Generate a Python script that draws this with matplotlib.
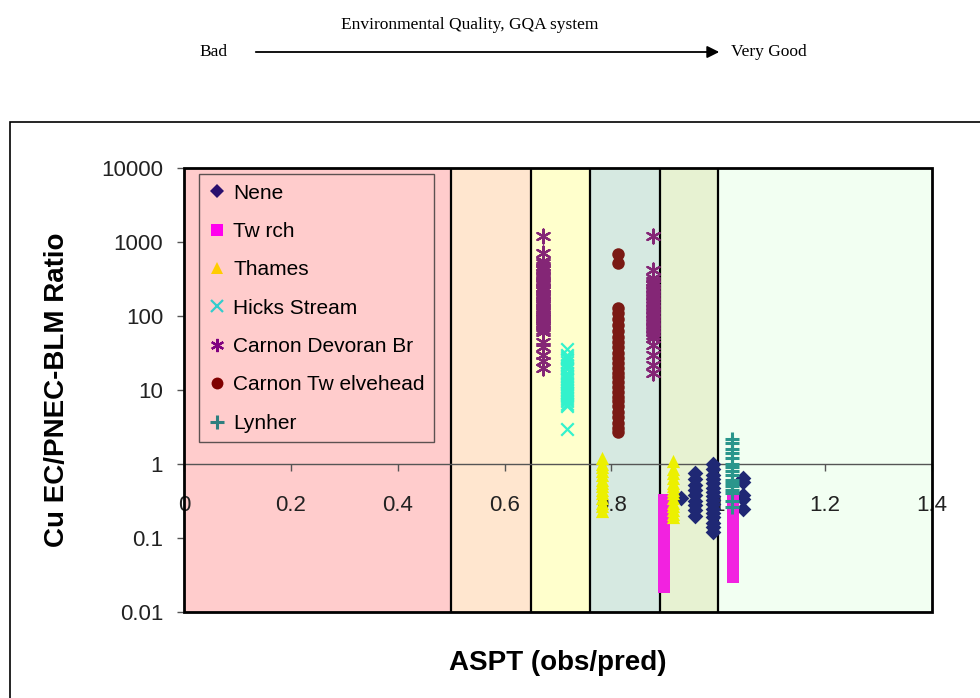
import matplotlib.pyplot as plt
import numpy as np
from matplotlib.patches import Rectangle, FancyArrowPatch
from matplotlib.lines import Line2D

plt.rcParams['font.family'] = ['Liberation Sans', 'DejaVu Sans']

# GQA classes on ASPT (obs/pred) and their band colours
band_edges = [0, 0.5, 0.65, 0.76, 0.89, 1.0, 1.4]
band_colors = ['#ffcccc', '#ffe6cf', '#ffffcc', '#d6e9e1', '#e7f2d2', '#f2fff2']

# each site column: ASPT (obs/pred) and the Cu EC/PNEC-BLM ratios measured there
nene_aspt = [0.93, 0.956, 0.99, 1.046]
nene_ratio = [[0.35],
              [0.75, 0.62, 0.52, 0.45, 0.38, 0.32, 0.28, 0.24, 0.2],
              [1.0, 0.85, 0.72, 0.62, 0.55, 0.48, 0.42, 0.37, 0.33, 0.29,
               0.25, 0.22, 0.19, 0.16, 0.14, 0.12],
              [0.65, 0.58, 0.38, 0.34, 0.25]]

twrch_aspt = [0.898, 1.027]
twrch_ratio = [[0.33, 0.25, 0.2, 0.16, 0.13, 0.1, 0.08, 0.065, 0.05, 0.04,
                0.032, 0.026, 0.022],
               [0.35, 0.28, 0.22, 0.18, 0.15, 0.12, 0.1, 0.085, 0.07, 0.06,
                0.05, 0.042, 0.036, 0.03]]

thames_aspt = [0.782, 0.915]
thames_ratio = [[1.2, 1.0, 0.9, 0.8, 0.7, 0.6, 0.55, 0.5, 0.45, 0.4, 0.35,
                 0.3, 0.27, 0.23],
                [1.1, 0.85, 0.75, 0.65, 0.55, 0.5, 0.45, 0.4, 0.35, 0.3,
                 0.27, 0.24, 0.21, 0.19]]

hicks_aspt = [0.717]
hicks_ratio = [[36, 30, 28, 26, 24, 22, 20, 19, 17, 16, 15, 14, 13, 12, 11,
                10, 9.5, 9, 8.5, 8, 7.5, 7, 6.5, 6, 3]]

devoran_aspt = [0.672, 0.878]
devoran_ratio = [[1200, 700, 560, 520, 480, 450, 420, 380, 350, 330, 300, 290,
                  270, 250, 230, 220, 200, 190, 180, 170, 160, 150, 140, 130,
                  120, 115, 105, 100, 95, 90, 85, 80, 75, 70, 65, 60, 45, 38,
                  30, 25, 20],
                 [1200, 420, 330, 300, 280, 260, 240, 220, 200, 185, 170, 155,
                  140, 130, 120, 110, 100, 92, 85, 78, 72, 66, 60, 55, 50, 40,
                  30, 22, 17]]

twelvehead_aspt = [0.812]
twelvehead_ratio = [[680, 520, 130, 110, 90, 75, 62, 52, 45, 38, 32, 27, 23,
                     20, 17, 15, 13, 11, 9.5, 8, 7, 6, 5, 4.3, 3.6, 3.1, 2.7]]

lynher_aspt = [1.026]
lynher_ratio = [[2.2, 1.9, 1.6, 1.4, 1.2, 1.0, 0.9, 0.8, 0.7, 0.6, 0.55, 0.5,
                 0.45, 0.4, 0.32, 0.26]]

x_ticks = [0, 0.2, 0.4, 0.6, 0.8, 1, 1.2, 1.4]
x_tick_labels = ['0', '0.2', '0.4', '0.6', '0.8', '1', '1.2', '1.4']
y_ticks = [0.01, 0.1, 1, 10, 100, 1000, 10000]
y_tick_labels = ['0.01', '0.1', '1', '10', '100', '1000', '10000']

# name, aspt, ratios, marker, plot colour, legend colour, size, edge width
series = [
    ('Nene', nene_aspt, nene_ratio, 'D', '#1f2874', '#2a0f6e', 8, 0),
    ('Tw rch', twrch_aspt, twrch_ratio, 's', '#f222e0', '#ff00ee', 8.5, 0),
    ('Thames', thames_aspt, thames_ratio, '^', '#ecf000', '#ffcc00', 9.5, 0),
    ('Hicks Stream', hicks_aspt, hicks_ratio, 'x', '#33f2cc', '#33cccc', 9, 1.6),
    ('Carnon Devoran Br', devoran_aspt, devoran_ratio, (6, 2, 0), '#842676', '#800080', 10, 1.6),
    ('Carnon Tw elvehead', twelvehead_aspt, twelvehead_ratio, 'o', '#7a1a14', '#800000', 9, 0),
    ('Lynher', lynher_aspt, lynher_ratio, '+', '#2a968c', '#2e7f7f', 10, 2.2),
]


def columns(aspt, ratios):
    x = np.concatenate([np.full(len(r), a) for a, r in zip(aspt, ratios)])
    y = np.concatenate([np.array(r, dtype=float) for r in ratios])
    return x, y


fig = plt.figure(figsize=(9.8, 6.98), dpi=100)

# header: quality scale arrow
fig.text(470 / 980, 1 - 25 / 698, 'Environmental Quality, GQA system',
         family='Liberation Serif', fontsize=12.5, ha='center', va='center')
fig.text(214 / 980, 1 - 52 / 698, 'Bad', family='Liberation Serif',
         fontsize=12.5, ha='center', va='center')
fig.text(731 / 980, 1 - 52 / 698, 'Very Good', family='Liberation Serif',
         fontsize=12.5, ha='left', va='center')
fig.add_artist(FancyArrowPatch((253 / 980, 1 - 52 / 698), (722 / 980, 1 - 52 / 698),
                               transform=fig.transFigure, arrowstyle='-|>',
                               mutation_scale=18, lw=1.3, color='black'))

# chart area border
fig.add_artist(Rectangle((10 / 980, -0.1), 1.0, 1.1 - 122 / 698,
                         transform=fig.transFigure, fill=False,
                         edgecolor='black', lw=1.2))

ax = fig.add_axes([184 / 980, 86 / 698, 748 / 980, 444 / 698])
ax.set_yscale('log')
ax.set_xlim(0, 1.4)
ax.set_ylim(0.01, 10000)

for i in range(len(band_colors)):
    ax.axvspan(band_edges[i], band_edges[i + 1], color=band_colors[i], lw=0, zorder=0)
for e in band_edges[1:-1]:
    ax.axvline(e, color='black', lw=1.6, zorder=1)

for name, aspt, ratios, mk, col, lcol, ms, lw in series:
    x, y = columns(aspt, ratios)
    ax.scatter(x, y, marker=mk, s=ms ** 2, color=col, linewidths=lw, zorder=3)

# x axis crosses at ratio = 1
for side in ['top', 'right', 'left']:
    ax.spines[side].set_visible(False)
ax.spines['bottom'].set_position(('data', 1))
ax.spines['bottom'].set_color('#555555')
ax.spines['bottom'].set_linewidth(1.0)
ax.add_patch(Rectangle((0, 0), 1, 1, transform=ax.transAxes, fill=False,
                       edgecolor='black', lw=2, zorder=5, clip_on=False))

ax.set_xticks(x_ticks)
ax.set_xticklabels(x_tick_labels)
ax.set_yticks(y_ticks)
ax.set_yticklabels(y_tick_labels)
ax.yaxis.set_minor_locator(plt.NullLocator())
ax.tick_params(axis='x', direction='out', length=5, width=1, color='#555555',
               pad=17, labelsize=16, labelcolor='#222222')
ax.tick_params(axis='y', direction='out', length=5, width=1, color='#555555',
               pad=10, labelsize=16, labelcolor='#222222')

ax.set_xlabel('ASPT (obs/pred)', fontsize=20, fontweight='bold')
ax.xaxis.set_label_coords(0.5, -0.085)
ax.set_ylabel('Cu EC/PNEC-BLM Ratio', fontsize=20, fontweight='bold')
ax.yaxis.set_label_coords(-0.152, 0.5)

handles = []
for name, aspt, ratios, mk, col, lcol, ms, lw in series:
    handles.append(Line2D([], [], linestyle='none', marker=mk, markersize=ms * 0.95,
                          color=lcol, markeredgewidth=lw, label=name))
leg = ax.legend(handles=handles, loc='upper left', bbox_to_anchor=(0.02, 0.986),
                borderaxespad=0, fontsize=15, frameon=True, fancybox=False,
                edgecolor='#333333', facecolor='none', labelspacing=0.93,
                handlelength=0.8, handletextpad=0.4, borderpad=0.45)
leg.get_frame().set_linewidth(1.0)
leg.set_zorder(6)

fig.savefig('out.png', dpi=100)
